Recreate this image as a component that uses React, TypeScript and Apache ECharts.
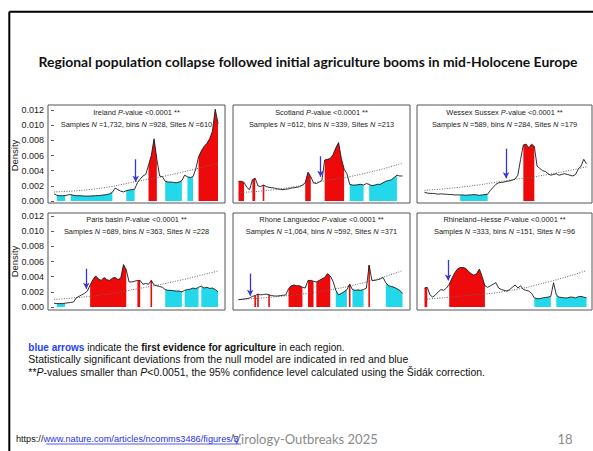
import React, { useEffect, useRef } from "react";
import * as echarts from "echarts";

// ---------- data (densities in units of 0.001) ----------
const N = 60;
const regionNames = ["Ireland", "Scotland", "Wessex Sussex", "Paris basin", "Rhone Languedoc", "Rhineland\u2013Hesse"];
const sampleCounts = ["1,732", "612", "589", "689", "1,064", "333"];
const binCounts = ["928", "339", "284", "363", "592", "151"];
const siteCounts = ["610", "213", "179", "228", "371", "96"];
const pValueText = "<0.0001 **";
const yTickValues = [0, 2, 4, 6, 8, 10, 12];

const densIreland = [
  0.95, 0.75, 0.7, 0.7, 0.72, 0.8, 0.85, 0.75, 0.7, 0.7,
  0.68, 0.65, 0.65, 0.65, 0.68, 0.7, 0.72, 0.75, 0.8, 0.85,
  0.95, 1.15, 1.7, 1.5, 1.3, 1.2, 1.35, 1.45, 1.5, 1.55,
  2.4, 2.9, 3.3, 3.5, 4.7, 6.0, 8.2, 5.5, 3.3, 3.2,
  2.6, 2.5, 2.5, 2.45, 2.4, 2.5, 2.7, 3.4, 3.2, 3.1,
  3.2, 4.2, 5.8, 6.6, 7.2, 7.6, 8.2, 9.2, 12.1, 10.2,
];
const densScotland = [
  2.6, 2.6, 2.45, 1.8, 1.5, 2.8, 3.0, 2.0, 1.9, 2.1,
  1.9, 1.8, 1.75, 1.7, 1.6, 1.55, 1.5, 1.55, 1.6, 1.7,
  1.75, 1.8, 1.9, 2.1, 2.4, 3.8, 3.2, 2.4, 2.3, 2.5,
  2.7, 5.4, 5.5, 5.6, 6.1, 7.0, 7.7, 5.6, 4.2, 3.6,
  2.2, 2.1, 2.1, 2.15, 2.2, 2.1, 2.3, 2.2, 2.0, 2.1,
  2.2, 2.2, 2.4, 2.6, 2.7, 2.8, 3.1, 3.4, 3.3, 3.3,
];
const densWessex = [
  1.15, 1.05, 1.0, 1.0, 0.95, 0.9, 0.95, 0.9, 0.9, 0.85,
  0.85, 0.8, 0.8, 0.8, 0.8, 0.75, 0.8, 0.8, 0.85, 0.8,
  0.75, 0.8, 0.85, 0.9, 1.4, 1.8, 2.2, 2.4, 2.45, 2.5,
  2.6, 2.65, 2.75, 2.9, 3.4, 5.5, 7.4, 7.5, 7.0, 7.5,
  7.2, 4.6, 4.3, 4.0, 3.9, 3.6, 3.4, 3.5, 3.6, 3.4,
  3.5, 3.6, 3.5, 3.4, 3.3, 3.5, 4.2, 4.6, 5.5, 4.9,
];
const densParis = [
  0.5, 0.45, 0.45, 0.45, 0.5, 0.55, 0.6, 0.65, 1.2, 1.4,
  1.6, 1.8, 2.1, 2.9, 3.6, 4.1, 3.7, 3.5, 3.9, 3.6,
  3.5, 3.8, 3.9, 3.6, 3.8, 5.6, 4.9, 3.3, 3.3, 3.4,
  3.5, 3.5, 3.0, 3.1, 3.0, 3.5, 2.9, 2.8, 2.7, 2.6,
  2.3, 2.2, 2.2, 2.15, 2.1, 2.1, 2.0, 2.2, 2.3, 2.35,
  2.5, 2.4, 2.6, 2.75, 2.5, 2.6, 2.45, 2.5, 2.3, 2.0,
];
const densRhone = [
  0.95, 1.0, 1.05, 1.1, 1.2, 1.4, 1.5, 1.7, 1.6, 1.65,
  1.7, 1.6, 1.5, 1.45, 1.45, 1.5, 1.55, 1.6, 2.4, 2.8,
  2.9, 2.8, 2.8, 2.6, 2.5, 3.5, 3.5, 3.4, 3.3, 3.5,
  3.7, 3.9, 4.4, 4.1, 3.4, 2.2, 1.6, 1.8, 2.0, 2.3,
  3.0, 2.3, 2.2, 2.25, 2.2, 2.3, 2.5, 5.5, 3.5, 3.5,
  3.6, 3.7, 3.9, 3.2, 2.8, 2.7, 2.6, 2.4, 2.2, 1.8,
];
const densRhineland = [
  2.5, 2.6, 1.6, 1.3, 1.6, 2.0, 2.3, 2.2, 2.5, 3.0,
  3.8, 4.5, 5.0, 5.2, 5.2, 5.1, 4.7, 4.4, 4.2, 4.4,
  5.0, 4.0, 2.8, 2.6, 2.8, 3.0, 3.2, 2.5, 2.3, 2.2,
  2.1, 2.3, 2.6, 2.9, 2.5, 2.8, 2.3, 2.2, 2.1, 1.8,
  1.2, 1.1, 1.1, 1.2, 1.25, 1.3, 1.4, 3.2, 1.6, 1.3,
  1.25, 1.2, 1.2, 1.3, 1.3, 1.2, 1.35, 1.4, 1.3, 1.2,
];
const densities = [densIreland, densScotland, densWessex, densParis, densRhone, densRhineland];

// significance ranges [startIndex, endIndex]
const redRanges = [
  [[34, 37], [52, 59]],
  [[0, 2], [5, 6], [24, 26], [31, 38]],
  [[36, 40]],
  [[13, 26], [30, 31]],
  [[18, 23], [25, 27], [28, 33]],
  [[0, 1], [9, 22]],
];
const cyanRanges = [
  [[1, 4], [6, 21], [26, 29], [40, 46], [48, 50]],
  [[40, 45], [47, 57]],
  [[13, 23]],
  [[1, 4], [40, 46], [47, 52], [53, 59]],
  [[35, 39], [41, 45], [53, 59]],
  [[40, 46], [48, 59]],
];
const redStripes = [[], [9], [], [35], [6, 7, 11, 40, 47], []];

// null model anchors [index, density]
const nullModels = [
  [[0, 1.2], [15, 1.6], [30, 2.6], [45, 3.7], [59, 5.0]],
  [[0, 1.1], [15, 1.6], [30, 2.6], [45, 3.6], [59, 5.0]],
  [[0, 1.4], [15, 1.9], [30, 2.7], [45, 3.5], [59, 4.5]],
  [[0, 1.0], [15, 1.5], [30, 2.4], [45, 3.5], [59, 4.75]],
  [[0, 1.0], [15, 1.4], [30, 2.1], [45, 3.2], [59, 4.8]],
  [[0, 1.0], [15, 1.5], [30, 2.1], [45, 3.3], [59, 4.8]],
];
// blue arrows: [index, top, bottom]
const arrows = [
  [29.4, 5.5, 2.55],
  [29.5, 5.9, 3.2],
  [29.7, 6.9, 3.0],
  [11.6, 5.05, 2.4],
  [4.2, 4.4, 1.5],
  [8.6, 6.2, 3.5],
];

// ---------- layout ----------
const plotLeft = [54, 238.5, 424.5];
const plotWidth = [164, 164, 162];
const plotTop = [110, 216];
const plotHeight = 91;
const boxLeft = [48, 233, 417];
const boxWidth = [177, 177, 175];
const boxTop = [105, 213];
const boxHeight = [98, 97];

const RED = "#EE0A0A";
const CYAN = "#22D8EA";
const BLUE = "#3535D8";
const SANS = "Liberation Sans, Arial, sans-serif";
const PANEL_FS = 7.4;

function buildOption() {
  const grid: any[] = [];
  const xAxis: any[] = [];
  const yAxis: any[] = [];
  const series: any[] = [];
  const graphic: any[] = [];

  for (let p = 0; p < 6; p++) {
    const r = Math.floor(p / 3);
    const c = p % 3;
    grid.push({ left: plotLeft[c], top: plotTop[r], width: plotWidth[c], height: plotHeight });
    xAxis.push({ type: "value", gridIndex: p, min: 0, max: N - 1, show: false });
    yAxis.push({
      type: "value",
      gridIndex: p,
      min: yTickValues[0],
      max: yTickValues[yTickValues.length - 1],
      interval: yTickValues[1] - yTickValues[0],
      show: c === 0,
      offset: plotLeft[c] - boxLeft[c],
      axisLine: { show: false },
      axisTick: { show: true, length: 3, lineStyle: { color: "#333", width: 0.8 } },
      axisLabel: {
        margin: 4,
        fontSize: 9,
        fontFamily: SANS,
        color: "#222",
        formatter: (v: number) => (v / 1000).toFixed(3),
      },
      splitLine: { show: false },
    });
    const dens = densities[p];
    const areaSeries = (ranges: number[][], color: string) =>
      ranges.map(([a, b]) => ({
        type: "line",
        xAxisIndex: p,
        yAxisIndex: p,
        data: dens.slice(a, b + 1).map((v, k) => [a + k, v]),
        symbol: "none",
        lineStyle: { width: 0, opacity: 0 },
        areaStyle: { color, opacity: 1 },
        z: 1,
        silent: true,
        clip: false,
      }));
    series.push(...areaSeries(cyanRanges[p], CYAN));
    series.push(...areaSeries(redRanges[p], RED));
    if (redStripes[p].length) {
      series.push({
        type: "bar",
        xAxisIndex: p,
        yAxisIndex: p,
        data: redStripes[p].map((i) => [i, dens[i]]),
        barWidth: 1.6,
        itemStyle: { color: RED },
        z: 2,
        silent: true,
      });
    }
    series.push({
      type: "line",
      xAxisIndex: p,
      yAxisIndex: p,
      data: nullModels[p],
      smooth: true,
      symbol: "none",
      lineStyle: { color: "#666", width: 1, type: [1, 1.5] },
      z: 3,
      silent: true,
    });
    const [ax, atop, abot] = arrows[p];
    series.push({
      type: "line",
      xAxisIndex: p,
      yAxisIndex: p,
      data: dens.map((v, i) => [i, v]),
      symbol: "none",
      lineStyle: { color: "#1a1a1a", width: 0.9 },
      z: 4,
      silent: true,
      clip: false,
      markLine: {
        silent: true,
        symbol: ["none", "arrow"],
        symbolSize: [5, 6],
        label: { show: false },
        lineStyle: { color: BLUE, width: 1.3, type: "solid" },
        data: [[{ coord: [ax, atop] }, { coord: [ax, abot] }]],
        z: 5,
      },
    });

    // panel box and title
    graphic.push({
      type: "rect",
      shape: { x: boxLeft[c], y: boxTop[r], width: boxWidth[c], height: boxHeight[r] },
      style: { fill: "none", stroke: "#555", lineWidth: 1 },
      z: 10,
    });
    const cx = boxLeft[c] + boxWidth[c] / 2;
    const ty = boxTop[r] + (r === 0 ? 7 : 6.5);
    const ital = { i: { fontStyle: "italic", fontSize: PANEL_FS, fontFamily: SANS, fill: "#222" } };
    graphic.push({
      type: "text",
      x: cx,
      y: ty,
      style: {
        text: `${regionNames[p]} {i|P}-value ${pValueText}`,
        rich: ital,
        fontSize: PANEL_FS,
        fontFamily: SANS,
        fill: "#222",
        align: "center",
        textAlign: "center",
        verticalAlign: "middle",
        textVerticalAlign: "middle",
      },
      z: 10,
    });
    graphic.push({
      type: "text",
      x: cx,
      y: ty + 12,
      style: {
        text: `Samples {i|N} =${sampleCounts[p]}, bins {i|N} =${binCounts[p]}, Sites {i|N} =${siteCounts[p]}`,
        rich: ital,
        fontSize: PANEL_FS,
        fontFamily: SANS,
        fill: "#222",
        align: "center",
        textAlign: "center",
        verticalAlign: "middle",
        textVerticalAlign: "middle",
      },
      z: 10,
    });
  }

  // Density labels
  [155.5, 261.5].forEach((y) =>
    graphic.push({
      type: "text",
      x: 14,
      y,
      rotation: Math.PI / 2,
      style: {
        text: "Density",
        fontSize: 9.5,
        fontFamily: SANS,
        fill: "#222",
        align: "center",
        textAlign: "center",
        verticalAlign: "middle",
        textVerticalAlign: "middle",
      },
      z: 10,
    })
  );

  // slide border
  graphic.push({ type: "line", shape: { x1: 9.3, y1: 11.8, x2: 593, y2: 11.8 }, style: { stroke: "#000", lineWidth: 2 }, z: 10 });
  graphic.push({ type: "line", shape: { x1: 9.3, y1: 11.8, x2: 9.3, y2: 451 }, style: { stroke: "#000", lineWidth: 2 }, z: 10 });

  // slide title
  graphic.push({
    type: "text",
    x: 308,
    y: 61,
    style: {
      text: "Regional population collapse followed initial agriculture booms in mid-Holocene Europe",
      fontSize: 13.9,
      fontWeight: "bold",
      fontFamily: "Lato, sans-serif",
      fill: "#111",
      align: "center",
      textAlign: "center",
      verticalAlign: "middle",
      textVerticalAlign: "middle",
    },
    z: 10,
  });

  // notes
  const notes = [
    "{b|blue arrows} indicate the {k|first evidence for agriculture} in each region.",
    "Statistically significant deviations from the null model are indicated in red and blue",
    "**{i|P}-values smaller than {i|P}<0.0051, the 95% confidence level calculated using the \u0160id\u00e1k correction.",
  ];
  const noteSizes = [10, 10.5, 10.5];
  notes.forEach((t, k) => {
    const fs = noteSizes[k];
    graphic.push({
      type: "text",
      x: 28.3,
      y: 347 + k * 12.3,
      style: {
        text: t,
        fontSize: fs,
        fontFamily: SANS,
        fill: "#111",
        rich: {
          b: { fontSize: fs, fontFamily: SANS, fontWeight: "bold", fill: "#2244EE" },
          k: { fontSize: fs, fontFamily: SANS, fontWeight: "bold", fill: "#111" },
          i: { fontSize: fs, fontFamily: SANS, fontStyle: "italic", fill: "#111" },
        },
        align: "left",
        textAlign: "left",
        verticalAlign: "middle",
        textVerticalAlign: "middle",
      },
      z: 10,
    });
  });

  // footer
  graphic.push({
    type: "text",
    x: 15.9,
    y: 439,
    style: {
      text: "https://{u|www.nature.com/articles/ncomms3486/figures/3}",
      fontSize: 9.2,
      fontFamily: SANS,
      fill: "#111",
      rich: { u: { fontSize: 9.2, fontFamily: SANS, fill: "#1f2ff0" } },
      align: "left",
      textAlign: "left",
      verticalAlign: "middle",
      textVerticalAlign: "middle",
    },
    z: 10,
  });
  graphic.push({ type: "line", shape: { x1: 46.3, y1: 444, x2: 241, y2: 444 }, style: { stroke: "#1f2ff0", lineWidth: 0.8 }, z: 10 });
  graphic.push({
    type: "text",
    x: 305,
    y: 439,
    style: {
      text: "Virology-Outbreaks 2025",
      fontSize: 13,
      fontFamily: "Lato, sans-serif",
      fill: "#8a8a8a",
      align: "center",
      textAlign: "center",
      verticalAlign: "middle",
      textVerticalAlign: "middle",
    },
    z: 9,
  });
  graphic.push({
    type: "text",
    x: 565,
    y: 439,
    style: {
      text: "18",
      fontSize: 13,
      fontFamily: "Lato, sans-serif",
      fill: "#8a8a8a",
      align: "center",
      textAlign: "center",
      verticalAlign: "middle",
      textVerticalAlign: "middle",
    },
    z: 9,
  });

  return { animation: false, backgroundColor: "#fff", grid, xAxis, yAxis, series, graphic };
}

export default function App() {
  const ref = useRef<HTMLDivElement>(null);
  useEffect(() => {
    if (!ref.current) return;
    const chart = echarts.init(ref.current, undefined, { renderer: "svg" });
    chart.setOption(buildOption() as any);
    return () => chart.dispose();
  }, []);
  return (
    <div
      ref={ref}
      style={{ position: "absolute", left: 0, top: 0, width: 593, height: 451, background: "#fff" }}
    />
  );
}
